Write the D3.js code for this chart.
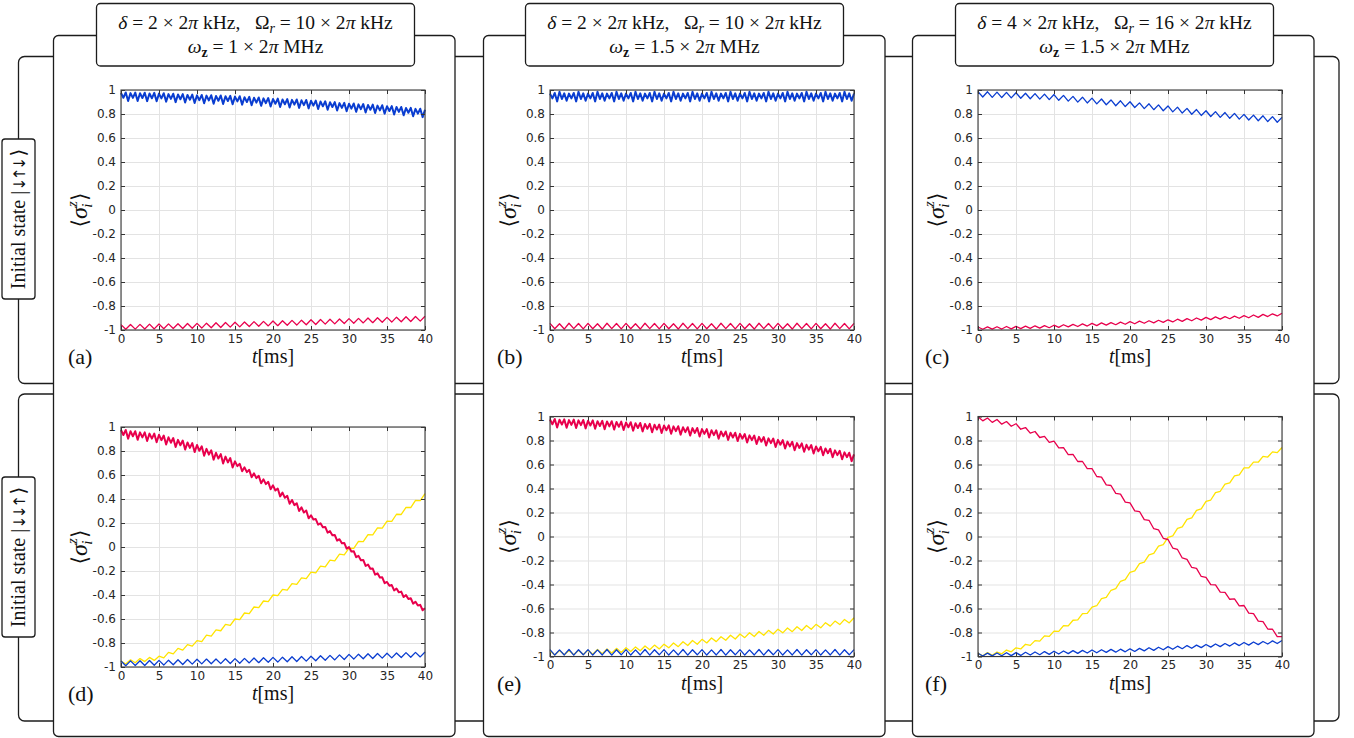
<!DOCTYPE html>
<html>
<head>
<meta charset="utf-8">
<title>Spin expectation values</title>
<script src="https://cdn.jsdelivr.net/npm/d3@7"></script>
<style>
  body { margin: 0; background: #fff; }
  .frame { fill: #fff; stroke: #1c1c1c; stroke-width: 1.3px; }
  .serif { font-family: "Liberation Serif", "DejaVu Serif", serif; fill: #111; white-space: pre; }
  .sym { font-family: "DejaVu Sans", sans-serif; }
  .tick text { font-family: "DejaVu Sans", sans-serif; font-size: 12px; fill: #262626; }
  .grid line { stroke: #e3e3e3; stroke-width: 1px; }
  .ax line { stroke: #333; }
  .curve { fill: none; stroke-linejoin: round; }
</style>
</head>
<body>
<script>
// coarse sample times (ms)
var T = [0,0.625,1.25,1.875,2.5,3.125,3.75,4.375,5,5.625,6.25,6.875,7.5,8.125,8.75,9.375,
         10,10.625,11.25,11.875,12.5,13.125,13.75,14.375,15,15.625,16.25,16.875,17.5,18.125,18.75,19.375,
         20,20.625,21.25,21.875,22.5,23.125,23.75,24.375,25,25.625,26.25,26.875,27.5,28.125,28.75,29.375,
         30,30.625,31.25,31.875,32.5,33.125,33.75,34.375,35,35.625,36.25,36.875,37.5,38.125,38.75,39.375,40];
// fine sample times (ms) for the fast-jitter curves
var T2 = [0,0.3125,0.625,0.9375,1.25,1.5625,1.875,2.1875,2.5,2.8125,3.125,3.4375,3.75,4.0625,4.375,4.6875,
          5,5.3125,5.625,5.9375,6.25,6.5625,6.875,7.1875,7.5,7.8125,8.125,8.4375,8.75,9.0625,9.375,9.6875,
          10,10.3125,10.625,10.9375,11.25,11.5625,11.875,12.1875,12.5,12.8125,13.125,13.4375,13.75,14.0625,14.375,14.6875,
          15,15.3125,15.625,15.9375,16.25,16.5625,16.875,17.1875,17.5,17.8125,18.125,18.4375,18.75,19.0625,19.375,19.6875,
          20,20.3125,20.625,20.9375,21.25,21.5625,21.875,22.1875,22.5,22.8125,23.125,23.4375,23.75,24.0625,24.375,24.6875,
          25,25.3125,25.625,25.9375,26.25,26.5625,26.875,27.1875,27.5,27.8125,28.125,28.4375,28.75,29.0625,29.375,29.6875,
          30,30.3125,30.625,30.9375,31.25,31.5625,31.875,32.1875,32.5,32.8125,33.125,33.4375,33.75,34.0625,34.375,34.6875,
          35,35.3125,35.625,35.9375,36.25,36.5625,36.875,37.1875,37.5,37.8125,38.125,38.4375,38.75,39.0625,39.375,39.6875,
          40];

var xTicks = [0,5,10,15,20,25,30,35,40];
var yTicks = [-1,-0.8,-0.6,-0.4,-0.2,0,0.2,0.4,0.6,0.8,1];

var panelLetters = ["(a)","(b)","(c)","(d)","(e)","(f)"];
var deltas = ["2","2","4"];
var omegaR = ["10","10","16"];
var omegaZ = ["1","1.5","1.5"];
var rowArrows = ["\u2193\u2191\u2193","\u2193\u2193\u2191"];

// (a)
var aBlue = [0.975,0.935,0.979,0.909,0.974,0.934,0.978,0.908,0.973,0.933,0.977,0.907,0.971,0.931,0.976,0.906,
  0.97,0.93,0.973,0.903,0.966,0.926,0.969,0.899,0.963,0.923,0.966,0.896,0.959,0.919,0.962,0.892,
  0.955,0.915,0.959,0.889,0.953,0.913,0.956,0.886,0.95,0.91,0.954,0.884,0.948,0.908,0.951,0.881,
  0.945,0.905,0.948,0.878,0.94,0.90,0.943,0.873,0.935,0.895,0.938,0.868,0.93,0.89,0.933,0.863,
  0.925,0.885,0.928,0.858,0.921,0.881,0.924,0.854,0.918,0.878,0.921,0.851,0.914,0.874,0.917,0.847,
  0.91,0.87,0.912,0.842,0.904,0.864,0.906,0.836,0.898,0.858,0.899,0.829,0.891,0.851,0.893,0.823,
  0.885,0.845,0.888,0.818,0.88,0.84,0.883,0.813,0.875,0.835,0.878,0.808,0.87,0.83,0.873,0.803,
  0.865,0.825,0.866,0.796,0.858,0.818,0.859,0.789,0.85,0.81,0.851,0.781,0.843,0.803,0.844,0.774,
  0.835];
var aRed = [-0.955,-0.994,-0.954,-0.993,-0.953,-0.992,-0.951,-0.991,
  -0.95,-0.989,-0.949,-0.988,-0.948,-0.987,-0.946,-0.986,
  -0.945,-0.984,-0.943,-0.981,-0.94,-0.979,-0.938,-0.976,
  -0.935,-0.974,-0.933,-0.971,-0.93,-0.969,-0.928,-0.966,
  -0.925,-0.964,-0.923,-0.961,-0.92,-0.959,-0.918,-0.956,
  -0.915,-0.954,-0.913,-0.951,-0.91,-0.949,-0.908,-0.946,
  -0.905,-0.944,-0.903,-0.941,-0.90,-0.939,-0.898,-0.936,
  -0.895,-0.934,-0.893,-0.931,-0.89,-0.929,-0.888,-0.926,
  -0.885];

// (b)
var bBlue = [0.97,0.93,0.975,0.905,0.985,0.925,0.972,0.91,0.97,0.93,0.975,0.905,0.985,0.925,0.972,0.91,
  0.97,0.93,0.975,0.905,0.985,0.925,0.972,0.91,0.97,0.93,0.975,0.905,0.985,0.925,0.972,0.91,
  0.97,0.93,0.975,0.905,0.985,0.925,0.972,0.91,0.97,0.93,0.975,0.905,0.985,0.925,0.972,0.91,
  0.97,0.93,0.975,0.905,0.985,0.925,0.972,0.91,0.97,0.93,0.975,0.905,0.985,0.925,0.972,0.91,
  0.97,0.93,0.975,0.905,0.985,0.925,0.972,0.91,0.97,0.93,0.975,0.905,0.985,0.925,0.972,0.91,
  0.97,0.93,0.975,0.905,0.985,0.925,0.972,0.91,0.97,0.93,0.975,0.905,0.985,0.925,0.972,0.91,
  0.97,0.93,0.975,0.905,0.985,0.925,0.972,0.91,0.97,0.93,0.975,0.905,0.985,0.925,0.972,0.91,
  0.97,0.93,0.975,0.905,0.985,0.925,0.972,0.91,0.97,0.93,0.975,0.905,0.985,0.925,0.972,0.91,
  0.97];
var bRed = [-0.945,-0.99,-0.948,-0.992,-0.944,-0.989,-0.946,-0.991,
  -0.945,-0.99,-0.948,-0.992,-0.944,-0.989,-0.946,-0.991,
  -0.945,-0.99,-0.948,-0.992,-0.944,-0.989,-0.946,-0.991,
  -0.945,-0.99,-0.948,-0.992,-0.944,-0.989,-0.946,-0.991,
  -0.945,-0.99,-0.948,-0.992,-0.944,-0.989,-0.946,-0.991,
  -0.945,-0.99,-0.948,-0.992,-0.944,-0.989,-0.946,-0.991,
  -0.945,-0.99,-0.948,-0.992,-0.944,-0.989,-0.946,-0.991,
  -0.945,-0.99,-0.948,-0.992,-0.944,-0.989,-0.946,-0.991,
  -0.945];

// (c)
var cBlue = [0.987,0.942,0.985,0.939,0.982,0.937,0.98,0.934,
  0.977,0.931,0.973,0.927,0.97,0.924,0.966,0.92,
  0.962,0.914,0.955,0.907,0.947,0.899,0.94,0.892,
  0.932,0.884,0.925,0.877,0.917,0.869,0.91,0.862,
  0.902,0.854,0.893,0.845,0.885,0.836,0.876,0.827,
  0.867,0.818,0.857,0.808,0.847,0.798,0.837,0.788,
  0.827,0.779,0.82,0.772,0.812,0.764,0.805,0.757,
  0.797,0.75,0.791,0.744,0.785,0.737,0.778,0.731,
  0.772];
var cRed = [-0.975,-0.994,-0.974,-0.993,-0.973,-0.992,-0.971,-0.991,
  -0.97,-0.989,-0.968,-0.986,-0.965,-0.984,-0.963,-0.981,
  -0.96,-0.978,-0.956,-0.974,-0.953,-0.971,-0.949,-0.967,
  -0.945,-0.963,-0.941,-0.959,-0.938,-0.956,-0.934,-0.952,
  -0.93,-0.948,-0.926,-0.944,-0.923,-0.941,-0.919,-0.937,
  -0.915,-0.933,-0.91,-0.928,-0.905,-0.923,-0.90,-0.918,
  -0.895,-0.913,-0.891,-0.909,-0.888,-0.906,-0.884,-0.902,
  -0.88,-0.898,-0.875,-0.895,-0.87,-0.888,-0.865,-0.883,
  -0.86];

// (d)
var dBlue = [-0.95,-0.989,-0.949,-0.988,-0.948,-0.987,-0.946,-0.986,
  -0.945,-0.984,-0.943,-0.981,-0.94,-0.979,-0.938,-0.976,
  -0.935,-0.974,-0.934,-0.973,-0.933,-0.972,-0.931,-0.971,
  -0.93,-0.969,-0.928,-0.966,-0.925,-0.964,-0.923,-0.961,
  -0.92,-0.959,-0.918,-0.956,-0.915,-0.954,-0.913,-0.951,
  -0.91,-0.948,-0.906,-0.944,-0.903,-0.941,-0.899,-0.937,
  -0.895,-0.934,-0.893,-0.931,-0.89,-0.929,-0.888,-0.926,
  -0.885,-0.924,-0.883,-0.921,-0.88,-0.919,-0.878,-0.916,
  -0.875];
var dYellow = [-0.95,-0.975,-0.94,-0.965,-0.93,-0.955,-0.92,-0.945,
  -0.91,-0.924,-0.878,-0.891,-0.845,-0.859,-0.813,-0.826,
  -0.78,-0.788,-0.735,-0.743,-0.69,-0.698,-0.645,-0.653,
  -0.60,-0.605,-0.55,-0.555,-0.50,-0.505,-0.45,-0.455,
  -0.40,-0.406,-0.353,-0.359,-0.305,-0.311,-0.258,-0.264,
  -0.21,-0.215,-0.16,-0.165,-0.11,-0.115,-0.06,-0.065,
  -0.01,-0.012,0.046,0.044,0.103,0.101,0.159,0.157,
  0.215,0.214,0.273,0.271,0.33,0.329,0.388,0.386,
  0.445];
var dRed = [0.975,0.933,0.975,0.903,0.965,0.923,0.965,0.893,0.955,0.913,0.955,0.883,0.945,0.903,0.945,0.873,
  0.935,0.89,0.929,0.854,0.914,0.869,0.908,0.833,0.893,0.848,0.887,0.812,0.871,0.826,0.866,0.791,
  0.85,0.802,0.839,0.761,0.818,0.77,0.806,0.728,0.785,0.737,0.774,0.696,0.753,0.705,0.741,0.663,
  0.714,0.674,0.693,0.631,0.664,0.624,0.643,0.581,0.614,0.574,0.593,0.531,0.564,0.524,0.543,0.481,
  0.514,0.471,0.487,0.422,0.453,0.41,0.426,0.361,0.392,0.349,0.365,0.30,0.33,0.287,0.304,0.239,
  0.264,0.23,0.233,0.186,0.198,0.164,0.167,0.12,0.132,0.097,0.10,0.053,0.065,0.031,0.034,-0.014,
  -0.001,-0.037,-0.035,-0.085,-0.074,-0.11,-0.108,-0.157,-0.146,-0.182,-0.18,-0.23,-0.219,-0.255,-0.253,-0.302,
  -0.291,-0.323,-0.317,-0.362,-0.346,-0.378,-0.372,-0.417,-0.401,-0.433,-0.427,-0.472,-0.456,-0.488,-0.482,-0.527,
  -0.511];

// (e)
var eBlue = [-0.943,-0.988,-0.945,-0.987,-0.942,-0.989,-0.944,-0.986,
  -0.943,-0.988,-0.945,-0.987,-0.942,-0.989,-0.944,-0.986,
  -0.943,-0.988,-0.945,-0.987,-0.942,-0.989,-0.944,-0.986,
  -0.943,-0.988,-0.945,-0.987,-0.942,-0.989,-0.944,-0.986,
  -0.943,-0.988,-0.945,-0.987,-0.942,-0.989,-0.944,-0.986,
  -0.943,-0.988,-0.945,-0.987,-0.942,-0.989,-0.944,-0.986,
  -0.943,-0.988,-0.945,-0.987,-0.942,-0.989,-0.944,-0.986,
  -0.943,-0.988,-0.945,-0.987,-0.942,-0.989,-0.944,-0.986,
  -0.943];
var eYellow = [-0.952,-0.987,-0.951,-0.986,-0.95,-0.985,-0.948,-0.984,
  -0.947,-0.981,-0.942,-0.976,-0.937,-0.971,-0.932,-0.966,
  -0.927,-0.959,-0.92,-0.952,-0.912,-0.944,-0.905,-0.937,
  -0.897,-0.928,-0.887,-0.918,-0.877,-0.908,-0.867,-0.898,
  -0.857,-0.887,-0.846,-0.876,-0.835,-0.865,-0.823,-0.854,
  -0.812,-0.843,-0.802,-0.833,-0.792,-0.823,-0.782,-0.813,
  -0.772,-0.803,-0.762,-0.793,-0.752,-0.783,-0.742,-0.773,
  -0.732,-0.761,-0.718,-0.747,-0.705,-0.734,-0.691,-0.72,
  -0.677];
var eRed = [0.975,0.935,0.979,0.909,0.973,0.933,0.976,0.906,0.97,0.93,0.974,0.904,0.968,0.928,0.971,0.901,
  0.965,0.925,0.968,0.898,0.961,0.921,0.964,0.894,0.958,0.918,0.961,0.891,0.954,0.914,0.957,0.887,
  0.95,0.91,0.952,0.882,0.944,0.904,0.946,0.876,0.938,0.898,0.939,0.869,0.931,0.891,0.933,0.863,
  0.925,0.885,0.926,0.856,0.918,0.878,0.919,0.849,0.91,0.87,0.911,0.841,0.903,0.863,0.904,0.834,
  0.895,0.855,0.895,0.825,0.885,0.845,0.885,0.815,0.875,0.835,0.875,0.805,0.865,0.825,0.865,0.795,
  0.855,0.815,0.854,0.784,0.843,0.803,0.841,0.771,0.83,0.79,0.829,0.759,0.818,0.778,0.816,0.746,
  0.805,0.765,0.803,0.733,0.791,0.751,0.789,0.719,0.778,0.738,0.776,0.706,0.764,0.724,0.762,0.692,
  0.75,0.71,0.747,0.677,0.734,0.694,0.731,0.661,0.718,0.678,0.714,0.644,0.701,0.661,0.698,0.628,
  0.685];

// (f)
var fBlue = [-0.973,-0.996,-0.972,-0.995,-0.971,-0.994,-0.969,-0.993,
  -0.968,-0.991,-0.965,-0.988,-0.962,-0.985,-0.959,-0.982,
  -0.956,-0.979,-0.954,-0.976,-0.951,-0.974,-0.949,-0.971,
  -0.946,-0.969,-0.944,-0.966,-0.941,-0.964,-0.939,-0.961,
  -0.936,-0.958,-0.932,-0.953,-0.927,-0.949,-0.923,-0.944,
  -0.918,-0.94,-0.914,-0.935,-0.909,-0.931,-0.905,-0.926,
  -0.90,-0.922,-0.896,-0.918,-0.892,-0.913,-0.887,-0.909,
  -0.883,-0.905,-0.879,-0.901,-0.875,-0.896,-0.87,-0.892,
  -0.866];
var fYellow = [-0.973,-0.995,-0.968,-0.99,-0.963,-0.978,-0.946,-0.961,
  -0.928,-0.937,-0.898,-0.907,-0.868,-0.872,-0.828,-0.832,
  -0.788,-0.79,-0.743,-0.745,-0.698,-0.695,-0.643,-0.64,
  -0.588,-0.577,-0.518,-0.507,-0.448,-0.435,-0.373,-0.36,
  -0.298,-0.286,-0.226,-0.213,-0.153,-0.141,-0.081,-0.068,
  -0.008,0.006,0.067,0.081,0.142,0.156,0.217,0.231,
  0.292,0.304,0.365,0.377,0.437,0.447,0.505,0.514,
  0.572,0.572,0.62,0.619,0.667,0.662,0.705,0.699,
  0.742];
var fRed = [0.998,0.964,0.988,0.951,0.975,0.936,0.958,0.919,
  0.94,0.894,0.908,0.861,0.875,0.825,0.835,0.785,
  0.795,0.738,0.74,0.683,0.685,0.625,0.625,0.565,
  0.565,0.50,0.495,0.43,0.425,0.359,0.353,0.286,
  0.28,0.214,0.208,0.141,0.135,0.065,0.055,-0.015,
  -0.025,-0.096,-0.108,-0.179,-0.19,-0.258,-0.265,-0.333,
  -0.34,-0.401,-0.403,-0.464,-0.465,-0.523,-0.52,-0.578,
  -0.575,-0.639,-0.643,-0.706,-0.71,-0.771,-0.773,-0.834,
  -0.835];

var BLUE = "#0a3dd0", RED = "#e8004c", YELLOW = "#ffe400";

// series per panel, in drawing order
var panels = [
  [{t: T2, d: aBlue, c: BLUE, w: 2}, {t: T, d: aRed, c: RED, w: 1.3}],
  [{t: T2, d: bBlue, c: BLUE, w: 2}, {t: T, d: bRed, c: RED, w: 1.3}],
  [{t: T, d: cBlue, c: BLUE, w: 1.3}, {t: T, d: cRed, c: RED, w: 1.3}],
  [{t: T, d: dYellow, c: YELLOW, w: 1.3}, {t: T, d: dBlue, c: BLUE, w: 1.3}, {t: T2, d: dRed, c: RED, w: 2}],
  [{t: T, d: eYellow, c: YELLOW, w: 1.3}, {t: T, d: eBlue, c: BLUE, w: 1.3}, {t: T2, d: eRed, c: RED, w: 2}],
  [{t: T, d: fYellow, c: YELLOW, w: 1.3}, {t: T, d: fBlue, c: BLUE, w: 1.3}, {t: T, d: fRed, c: RED, w: 1.3}]
];

var W = 1354, H = 738;
var svg = d3.select("body").append("svg").attr("width", W).attr("height", H);
svg.append("rect").attr("width", W).attr("height", H).attr("fill", "#fff");

// row frames (behind)
var rowTop = [56.5, 394];
rowTop.forEach(function(y0) {
  svg.append("rect").attr("class", "frame")
    .attr("x", 18.5).attr("y", y0).attr("width", 1320.5).attr("height", 327).attr("rx", 6);
});

// column frames
var colLeft = [53.5, 483.5, 912.5];
colLeft.forEach(function(x0) {
  svg.append("rect").attr("class", "frame")
    .attr("x", x0).attr("y", 35.5).attr("width", 401.5).attr("height", 701).attr("rx", 5);
});

// title boxes
var titleLeft = [96.5, 525.5, 955.5];
titleLeft.forEach(function(x0, i) {
  svg.append("rect").attr("class", "frame")
    .attr("x", x0).attr("y", 3.5).attr("width", 318).attr("height", 62.5).attr("rx", 4);
  var cx = x0 + 159;
  var t1 = svg.append("text").attr("class", "serif").attr("x", cx).attr("y", 29)
    .attr("text-anchor", "middle").style("font-size", "19.5px");
  t1.append("tspan").style("font-style", "italic").text("\u03B4");
  t1.append("tspan").text(" = " + deltas[i] + " \u00D7 2");
  t1.append("tspan").style("font-style", "italic").text("\u03C0");
  t1.append("tspan").text(" kHz,   \u03A9");
  t1.append("tspan").style("font-style", "italic").style("font-size", "14px").attr("dy", 4).text("r");
  t1.append("tspan").attr("dy", -4).text(" = " + omegaR[i] + " \u00D7 2");
  t1.append("tspan").style("font-style", "italic").text("\u03C0");
  t1.append("tspan").text(" kHz");

  var t2 = svg.append("text").attr("class", "serif").attr("x", cx).attr("y", 52.5)
    .attr("text-anchor", "middle").style("font-size", "19.5px");
  t2.append("tspan").style("font-style", "italic").text("\u03C9");
  t2.append("tspan").style("font-size", "14px").style("font-weight", "bold").attr("dy", 4).text("z");
  t2.append("tspan").attr("dy", -4).text(" = " + omegaZ[i] + " \u00D7 2");
  t2.append("tspan").style("font-style", "italic").text("\u03C0");
  t2.append("tspan").text(" MHz");
});

// row labels
var rowLabelY = [219, 557];
rowLabelY.forEach(function(cy, i) {
  var g = svg.append("g").attr("transform", "translate(18.5," + cy + ") rotate(-90)");
  g.append("rect").attr("class", "frame").attr("x", -80).attr("y", -16.5)
    .attr("width", 160).attr("height", 33).attr("rx", 3);
  var tx = g.append("text").attr("class", "serif").attr("x", 0).attr("y", 6)
    .attr("text-anchor", "middle").style("font-size", "20px");
  tx.append("tspan").text("Initial state |");
  tx.append("tspan").attr("class", "sym").style("font-size", "16px").style("letter-spacing", "-3px")
    .text(rowArrows[i]);
  tx.append("tspan").attr("class", "sym").attr("dx", 3).style("font-size", "20px").text("\u27E9");
});

// plots
var plotLeft = [121, 550, 978];
var plotTops = [[90, 90, 90], [427, 416.5, 416.5]];
var plotW = 304, plotH = 240;
var yFmt = function(d) { return String(Math.round(d * 10) / 10); };

panels.forEach(function(series, p) {
  var row = Math.floor(p / 3), col = p % 3;
  var L = plotLeft[col], Tp = plotTops[row][col], B = Tp + plotH;
  var x = d3.scaleLinear().domain([0, 40]).range([L, L + plotW]);
  var y = d3.scaleLinear().domain([-1, 1]).range([B, Tp]);
  var g = svg.append("g");

  // grid
  g.append("g").attr("class", "grid").attr("transform", "translate(0," + Tp + ")")
    .call(d3.axisBottom(x).tickValues(xTicks).tickSize(plotH).tickFormat(""))
    .call(function(s) { s.select(".domain").remove(); });
  g.append("g").attr("class", "grid").attr("transform", "translate(" + L + ",0)")
    .call(d3.axisRight(y).tickValues(yTicks).tickSize(plotW).tickFormat(""))
    .call(function(s) { s.select(".domain").remove(); });

  // curves
  series.forEach(function(s) {
    var line = d3.line().x(function(d, i) { return x(s.t[i]); }).y(function(d) { return y(d); });
    g.append("path").attr("class", "curve").attr("d", line(s.d))
      .attr("stroke", s.c).attr("stroke-width", s.w);
  });

  // axes, ticks inside
  g.append("g").attr("class", "ax").attr("transform", "translate(0," + B + ")")
    .call(d3.axisBottom(x).tickValues(xTicks).tickSizeInner(-4).tickSizeOuter(0).tickPadding(4).tickFormat(d3.format("d")))
    .call(function(s) { s.select(".domain").remove(); });
  g.append("g").attr("class", "ax").attr("transform", "translate(0," + Tp + ")")
    .call(d3.axisTop(x).tickValues(xTicks).tickSizeInner(-4).tickSizeOuter(0).tickFormat(""))
    .call(function(s) { s.select(".domain").remove(); });
  g.append("g").attr("class", "ax").attr("transform", "translate(" + L + ",0)")
    .call(d3.axisLeft(y).tickValues(yTicks).tickSizeInner(-4).tickSizeOuter(0).tickPadding(5).tickFormat(yFmt))
    .call(function(s) { s.select(".domain").remove(); });
  g.append("g").attr("class", "ax").attr("transform", "translate(" + (L + plotW) + ",0)")
    .call(d3.axisRight(y).tickValues(yTicks).tickSizeInner(-4).tickSizeOuter(0).tickFormat(""))
    .call(function(s) { s.select(".domain").remove(); });
  g.append("rect").attr("x", L).attr("y", Tp).attr("width", plotW).attr("height", plotH)
    .attr("fill", "none").attr("stroke", "#3a3a3a").attr("stroke-width", 1.1);

  // y label <sigma_i^z>
  var yl = g.append("text").attr("class", "serif").style("font-size", "24px")
    .attr("text-anchor", "middle")
    .attr("transform", "translate(" + (L - 34) + "," + (Tp + plotH / 2) + ") rotate(-90)");
  yl.append("tspan").attr("class", "sym").style("font-size", "22px").text("\u27E8");
  yl.append("tspan").style("font-style", "italic").text("\u03C3");
  yl.append("tspan").style("font-style", "italic").style("font-size", "15px").attr("dy", -10).text("z");
  yl.append("tspan").style("font-style", "italic").style("font-size", "15px").attr("dx", -6.5).attr("dy", 15).text("i");
  yl.append("tspan").attr("class", "sym").style("font-size", "22px").attr("dy", -5).attr("dx", 2.5).text("\u27E9");

  // x label
  var xl = g.append("text").attr("class", "serif").style("font-size", "20px")
    .attr("text-anchor", "middle").attr("x", L + plotW / 2).attr("y", B + 33);
  xl.append("tspan").style("font-style", "italic").text("t");
  xl.append("tspan").text("[ms]");

  // panel letter
  g.append("text").attr("class", "serif").style("font-size", "22px")
    .attr("x", L - 53).attr("y", B + 34).text(panelLetters[p]);
});
</script>
</body>
</html>
